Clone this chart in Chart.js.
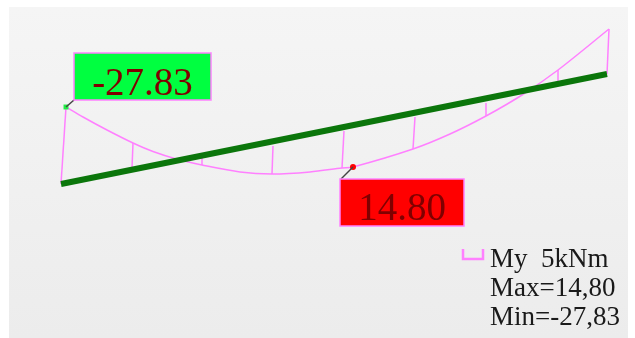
<!DOCTYPE html>
<html>
<head>
<meta charset="utf-8">
<script src="https://cdn.jsdelivr.net/npm/chart.js@4/dist/chart.umd.min.js"></script>
<style>
html,body{margin:0;padding:0;background:#fff;overflow:hidden}
#panel{position:absolute;left:9px;top:7px;width:619px;height:331px;background:linear-gradient(#f5f5f5,#ececec)}
#c{position:absolute;left:0;top:0;filter:blur(.4px)}
</style>
</head>
<body>
<div id="panel"></div>
<canvas id="c" width="635" height="338"></canvas>
<script>
// values, in picture units along both axes
const beamX = [61, 607];
const beamY = [184, 74];

const curveX = [66, 83, 107, 133, 153, 178, 202, 240, 272, 310, 342, 353, 413, 450, 486, 522, 558, 609];
const curveY = [107, 117, 130, 143, 151.5, 159.5, 165, 172, 174, 172, 168, 167, 149, 134, 116, 95, 70, 29];

const ordinateBaseX = [61, 132, 202, 273, 344, 415, 486, 558, 607];
const ordinateBaseY = [184, 168, 155, 146, 131, 117, 103, 83, 74];
const ordinateEndX = [66, 133, 202, 272, 342, 413, 486, 558, 609];
const ordinateEndY = [107, 143, 165, 174, 168, 149, 116, 70, 29];

const minPoint = [66, 107];
const maxPoint = [353, 167];

const minLabel = '-27.83';
const maxLabel = '14.80';
const legendLines = ['My  5kNm', 'Max=14,80', 'Min=-27,83'];

const PINK = '#ff80ff';
const SERIF = '"Liberation Serif", "Times New Roman", serif';

const ordinates = ordinateBaseX.map((x, i) => ({
  data: [{ x: x, y: ordinateBaseY[i] }, { x: ordinateEndX[i], y: ordinateEndY[i] }],
  borderColor: PINK,
  borderWidth: 1.5,
  pointRadius: 0,
  showLine: true,
  order: 3
}));

function drawCallout(ctx, x, y, w, h, fill, text, baseline, tip) {
  ctx.strokeStyle = '#444';
  ctx.lineWidth = 1.5;
  ctx.beginPath();
  ctx.moveTo(tip.x, tip.y);
  ctx.lineTo(tip.toX, tip.toY);
  ctx.stroke();

  ctx.fillStyle = fill;
  ctx.fillRect(x, y, w, h);
  ctx.strokeStyle = PINK;
  ctx.lineWidth = 1.5;
  ctx.strokeRect(x, y, w, h);

  ctx.fillStyle = '#800000';
  ctx.font = '39px ' + SERIF;
  ctx.textAlign = 'center';
  ctx.textBaseline = 'alphabetic';
  ctx.fillText(text, x + w / 2, baseline);
}

const annotations = {
  id: 'annotations',
  afterDatasetsDraw(chart) {
    const ctx = chart.ctx;
    const sx = chart.scales.x;
    const sy = chart.scales.y;
    ctx.save();

    drawCallout(ctx, 74, 53, 137, 47, '#00ff40', minLabel, 95, {
      x: sx.getPixelForValue(minPoint[0]), y: sy.getPixelForValue(minPoint[1]), toX: 74, toY: 100
    });
    drawCallout(ctx, 340, 179, 124, 47, '#ff0000', maxLabel, 220, {
      x: sx.getPixelForValue(maxPoint[0]), y: sy.getPixelForValue(maxPoint[1]), toX: 341, toY: 179
    });

    // legend key
    ctx.strokeStyle = PINK;
    ctx.lineWidth = 2.5;
    ctx.beginPath();
    ctx.moveTo(463, 249);
    ctx.lineTo(463, 259);
    ctx.lineTo(483, 259);
    ctx.lineTo(483, 249);
    ctx.stroke();

    ctx.fillStyle = '#1a1a1a';
    ctx.font = '27px ' + SERIF;
    ctx.textAlign = 'left';
    legendLines.forEach((line, i) => {
      ctx.fillText(line, 490, 267 + i * 29);
    });
    ctx.restore();
  }
};

new Chart(document.getElementById('c'), {
  type: 'scatter',
  data: {
    datasets: [
      {
        data: beamX.map((x, i) => ({ x: x, y: beamY[i] })),
        borderColor: '#0b760b',
        borderWidth: 6,
        pointRadius: 0,
        showLine: true,
        order: 1
      },
      {
        data: curveX.map((x, i) => ({ x: x, y: curveY[i] })),
        borderColor: PINK,
        borderWidth: 1.5,
        tension: 0.3,
        pointRadius: 0,
        showLine: true,
        order: 2
      },
      ...ordinates,
      {
        data: [{ x: minPoint[0], y: minPoint[1] }],
        backgroundColor: '#22ee44',
        borderWidth: 0,
        pointStyle: 'rect',
        pointRadius: 3.5,
        order: 0
      },
      {
        data: [{ x: maxPoint[0], y: maxPoint[1] }],
        backgroundColor: '#ff0000',
        borderWidth: 0,
        pointRadius: 3,
        order: 0
      }
    ]
  },
  options: {
    responsive: false,
    animation: false,
    layout: { padding: 0, autoPadding: false },
    plugins: {
      legend: { display: false },
      tooltip: { enabled: false }
    },
    scales: {
      x: { type: 'linear', min: 0, max: 635, display: false },
      y: { type: 'linear', min: 0, max: 338, reverse: true, display: false }
    }
  },
  plugins: [annotations]
});
</script>
</body>
</html>
